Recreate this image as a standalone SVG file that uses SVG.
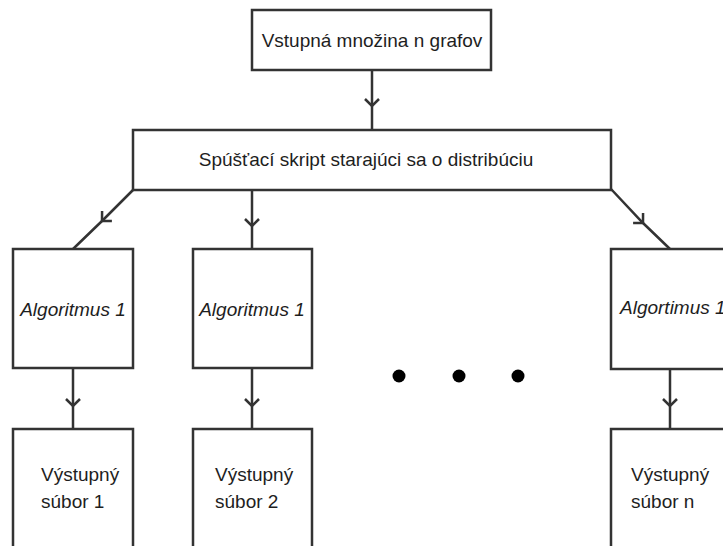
<svg xmlns="http://www.w3.org/2000/svg" width="723" height="546" viewBox="0 0 723 546">
  <style>
    .box { fill: #ffffff; stroke: #333333; stroke-width: 2.5; }
    .conn { fill: none; stroke: #333333; stroke-width: 2.5; marker-mid: url(#chev); }
    .t { font-family: "Liberation Sans", Arial, sans-serif; font-size: 19px; fill: #1e1e1e; }
    .it { font-style: italic; }
    .dot { fill: #000000; }
  </style>
  <defs>
    <marker id="chev" markerUnits="userSpaceOnUse" viewBox="-10 -10 20 20" markerWidth="20" markerHeight="20" refX="0" refY="0" orient="auto" overflow="visible">
      <path d="M-7,-7 L0,0 L-7,7" fill="none" stroke="#333333" stroke-width="2.5"/>
    </marker>
  </defs>
  <rect width="723" height="546" fill="#ffffff"/>

  <g id="connectors">
    <path class="conn" d="M372,70 L372,106 L372,130"/>
    <path class="conn" d="M133,190 L102,221 L73,249"/>
    <path class="conn" d="M252,190 L252,226 L252,249"/>
    <path class="conn" d="M611,189 L643,223 L670,249"/>
    <path class="conn" d="M73,368 L73,406 L73,429"/>
    <path class="conn" d="M252,368 L252,406 L252,429"/>
    <path class="conn" d="M670,369 L670,406 L670,429"/>
  </g>

  <g id="input">
    <rect class="box" x="252" y="10" width="239" height="60"/>
    <text class="t" x="372" y="47" text-anchor="middle">Vstupná množina n grafov</text>
  </g>

  <g id="dispatcher">
    <rect class="box" x="133" y="130" width="478" height="60"/>
    <text class="t" x="366" y="166" text-anchor="middle">Spúšťací skript starajúci sa o distribúciu</text>
  </g>

  <g id="alg1">
    <rect class="box" x="13" y="249" width="120" height="119"/>
    <text class="t it" x="73" y="316" text-anchor="middle">Algoritmus 1</text>
  </g>

  <g id="alg2">
    <rect class="box" x="193" y="249" width="119" height="119"/>
    <text class="t it" x="252" y="316" text-anchor="middle">Algoritmus 1</text>
  </g>

  <g id="algn">
    <rect class="box" x="611" y="249" width="140" height="120"/>
    <text class="t it" x="620" y="314">Algortimus 1</text>
  </g>

  <g id="out1">
    <rect class="box" x="13" y="429" width="120" height="140"/>
    <text class="t" x="41" y="481">Výstupný</text>
    <text class="t" x="41" y="508">súbor 1</text>
  </g>

  <g id="out2">
    <rect class="box" x="193" y="429" width="119" height="140"/>
    <text class="t" x="215" y="481">Výstupný</text>
    <text class="t" x="215" y="508">súbor 2</text>
  </g>

  <g id="outn">
    <rect class="box" x="611" y="429" width="140" height="140"/>
    <text class="t" x="631" y="481">Výstupný</text>
    <text class="t" x="631" y="508">súbor n</text>
  </g>

  <g id="ellipsis">
    <circle class="dot" cx="399" cy="376" r="6.5"/>
    <circle class="dot" cx="459" cy="376" r="6.5"/>
    <circle class="dot" cx="518" cy="376" r="6.5"/>
  </g>
</svg>
